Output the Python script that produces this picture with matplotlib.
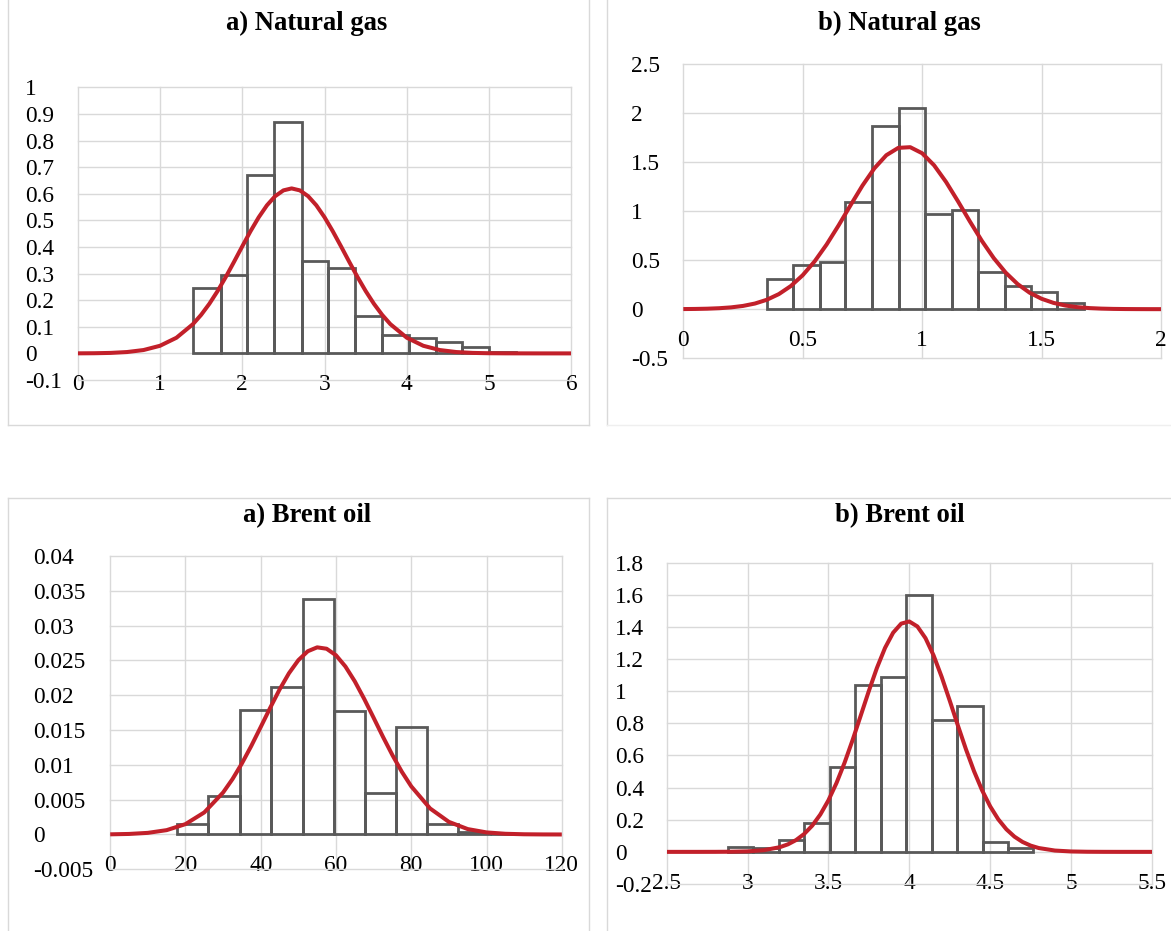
import numpy as np
import matplotlib
matplotlib.use("Agg")
import matplotlib.pyplot as plt
from matplotlib.lines import Line2D

plt.rcParams['font.family'] = ['Liberation Serif', 'DejaVu Serif']

# ---------------------------------------------------------------
#    DATA
# ---------------------------------------------------------------
# a) Natural gas - histogram
gas_a_edges = [1.405, 1.740, 2.056, 2.391, 2.730, 3.047, 3.372, 3.698, 4.023, 4.349, 4.674, 5.000, 5.326]
gas_a_dens = [0.244, 0.294, 0.670, 0.870, 0.347, 0.320, 0.140, 0.068, 0.056, 0.044, 0.023, 0.007]
# a) Natural gas - fitted curve
gas_a_cx = [0.0, 0.2, 0.4, 0.6, 0.8, 1.0, 1.2, 1.4, 1.5, 1.6, 1.7, 1.8, 1.9, 2.0, 2.1, 2.2, 2.3, 2.4, 2.5,
            2.6, 2.7, 2.8, 2.9, 3.0, 3.1, 3.2, 3.3, 3.4, 3.5, 3.6, 3.7, 3.8, 4.0, 4.2, 4.4, 4.6, 4.8,
            5.0, 5.2, 5.4, 5.6, 5.8, 6.0]
gas_a_cy = [0.0002, 0.0006, 0.0018, 0.0051, 0.0126, 0.0286, 0.0588, 0.1098, 0.1448, 0.1864, 0.2342,
            0.2873, 0.3441, 0.4023, 0.4590, 0.5115, 0.5565, 0.5909, 0.6126, 0.6200, 0.6126, 0.5909,
            0.5565, 0.5115, 0.4590, 0.4023, 0.3441, 0.2873, 0.2342, 0.1864, 0.1448, 0.1098, 0.0588,
            0.0286, 0.0126, 0.0051, 0.0018, 0.0006, 0.0002, 0.0001, 0.0, 0.0, 0.0]

# b) Natural gas
gas_b_edges = [0.349, 0.459, 0.572, 0.676, 0.792, 0.902, 1.012, 1.125, 1.235, 1.346, 1.456, 1.566, 1.676]
gas_b_dens = [0.312, 0.451, 0.478, 1.088, 1.864, 2.044, 0.966, 1.010, 0.383, 0.231, 0.173, 0.061]
gas_b_cx = [0.00, 0.05, 0.10, 0.15, 0.20, 0.25, 0.30, 0.35, 0.40, 0.45, 0.50, 0.55, 0.60, 0.65, 0.70,
            0.75, 0.80, 0.85, 0.90, 0.95, 1.00, 1.05, 1.10, 1.15, 1.20, 1.25, 1.30, 1.35, 1.40, 1.45,
            1.50, 1.55, 1.60, 1.65, 1.70, 1.75, 1.80, 1.85, 1.90, 1.95, 2.00]
gas_b_cy = [0.0011, 0.0023, 0.0048, 0.0096, 0.0182, 0.0330, 0.0574, 0.0959, 0.1533, 0.2350, 0.3457,
            0.4869, 0.6578, 0.8516, 1.0569, 1.2572, 1.4335, 1.5667, 1.6414, 1.6484, 1.5867, 1.4641,
            1.2949, 1.0979, 0.8922, 0.6950, 0.5189, 0.3713, 0.2547, 0.1675, 0.1057, 0.0639, 0.0369,
            0.0205, 0.0109, 0.0056, 0.0027, 0.0013, 0.0006, 0.0002, 0.0001]

# a) Brent oil
oil_a_edges = [17.7, 26.1, 34.5, 42.7, 51.1, 59.4, 67.6, 75.9, 84.2, 92.5, 100.8, 109.1, 117.4]
oil_a_dens = [0.00144, 0.00555, 0.0179, 0.02115, 0.0338, 0.0178, 0.00593, 0.0155, 0.00152,
              0.00035, 0.0001, 0.0001]
oil_a_cx = [0, 5, 10, 15, 20, 25, 30, 32.5, 35, 37.5, 40, 42.5, 45, 47.5, 50, 52.5, 55, 57.5, 60,
            62.5, 65, 67.5, 70, 72.5, 75, 77.5, 80, 85, 90, 95, 100, 105, 110, 115, 120]
oil_a_cy = [0.0000232, 0.0000779, 0.000233, 0.000624, 0.00149, 0.00317, 0.00603, 0.00796, 0.01021,
            0.01273, 0.01544, 0.01818, 0.02082, 0.02316, 0.02504, 0.02632, 0.02688, 0.02668, 0.02574,
            0.02413, 0.02199, 0.01947, 0.01676, 0.01401, 0.01139, 0.00900, 0.00691, 0.00374, 0.00181,
            0.000777, 0.000299, 0.000102, 0.0000313, 0.0000086, 0.0000021]

# b) Brent oil
oil_b_edges = [2.880, 3.037, 3.194, 3.352, 3.509, 3.666, 3.824, 3.981, 4.138, 4.296, 4.453, 4.610, 4.767]
oil_b_dens = [0.028, 0.021, 0.074, 0.178, 0.527, 1.039, 1.091, 1.602, 0.822, 0.909, 0.062, 0.023]
oil_b_cx = [2.5, 2.6, 2.7, 2.8, 2.9, 3.0, 3.1, 3.2, 3.25, 3.3, 3.35, 3.4, 3.45, 3.5, 3.55, 3.6, 3.65,
            3.7, 3.75, 3.8, 3.85, 3.9, 3.95, 4.0, 4.05, 4.1, 4.15, 4.2, 4.25, 4.3, 4.35, 4.4, 4.45,
            4.5, 4.55, 4.6, 4.65, 4.7, 4.75, 4.8, 4.9, 5.0, 5.1, 5.2, 5.3, 5.4, 5.5]
oil_b_cy = [0.0, 0.00001, 0.00004, 0.0002, 0.0009, 0.0032, 0.0102, 0.0292, 0.0470, 0.0734, 0.1113,
            0.1633, 0.2325, 0.3206, 0.4285, 0.5552, 0.6973, 0.8489, 1.0016, 1.1454, 1.2697, 1.3642,
            1.4208, 1.4341, 1.4031, 1.3305, 1.2231, 1.0896, 0.9409, 0.7875, 0.6390, 0.5024, 0.3830,
            0.2830, 0.2026, 0.1406, 0.0946, 0.0617, 0.0390, 0.0239, 0.0082, 0.0025, 0.0007, 0.0002,
            0.00003, 0.0, 0.0]

titles = ["a) Natural gas", "b) Natural gas", "a) Brent oil", "b) Brent oil"]

gas_a_xt = [0, 1, 2, 3, 4, 5, 6]
gas_a_yt = [-0.1, 0, 0.1, 0.2, 0.3, 0.4, 0.5, 0.6, 0.7, 0.8, 0.9, 1]
gas_a_yl = ["-0.1", "0", "0.1", "0.2", "0.3", "0.4", "0.5", "0.6", "0.7", "0.8", "0.9", "1"]
gas_b_xt = [0, 0.5, 1, 1.5, 2]
gas_b_xl = ["0", "0.5", "1", "1.5", "2"]
gas_b_yt = [-0.5, 0, 0.5, 1, 1.5, 2, 2.5]
gas_b_yl = ["-0.5", "0", "0.5", "1", "1.5", "2", "2.5"]
oil_a_xt = [0, 20, 40, 60, 80, 100, 120]
oil_a_yt = [-0.005, 0, 0.005, 0.01, 0.015, 0.02, 0.025, 0.03, 0.035, 0.04]
oil_a_yl = ["-0.005", "0", "0.005", "0.01", "0.015", "0.02", "0.025", "0.03", "0.035", "0.04"]
oil_b_xt = [2.5, 3, 3.5, 4, 4.5, 5, 5.5]
oil_b_xl = ["2.5", "3", "3.5", "4", "4.5", "5", "5.5"]
oil_b_yt = [-0.2, 0, 0.2, 0.4, 0.6, 0.8, 1, 1.2, 1.4, 1.6, 1.8]
oil_b_yl = ["-0.2", "0", "0.2", "0.4", "0.6", "0.8", "1", "1.2", "1.4", "1.6", "1.8"]

W, H = 1171, 931
GRID = "#D9D9D9"
BARC = "#595959"
RED = "#C2202A"


def draw_panel(rect, edges, dens, cx, cy, xt, xl, yt, yl, ypad):
	# rect in pixels: left, top, right, bottom
	l, t, r, b = rect
	ax = fig.add_axes([l / W, 1 - b / H, (r - l) / W, (b - t) / H])
	ax.set_axisbelow(True)
	edges = np.array(edges)
	ax.bar(edges[:-1], dens, width=np.diff(edges), align="edge", fill=False,
	       edgecolor=BARC, linewidth=2.0, zorder=2)
	ax.plot(cx, cy, color=RED, linewidth=2.9, zorder=3, solid_capstyle="butt")
	ax.set_xlim(xt[0], xt[-1])
	ax.set_ylim(yt[0], yt[-1])
	ax.set_xticks(xt, xl)
	ax.set_yticks(yt, yl)
	for s in ax.spines.values():
		s.set_visible(False)
	# x labels hang below the zero line, like the Excel axis
	ax.spines["bottom"].set_position(("data", 0))
	ax.tick_params(axis="both", length=0, labelsize=16.8, labelcolor="black")
	ax.tick_params(axis="x", pad=15.0)
	ax.tick_params(axis="y", pad=ypad)
	plt.setp(ax.get_yticklabels(), ha="left")
	ax.grid(True, color=GRID, linewidth=1.0)
	for gl in ax.get_xgridlines() + ax.get_ygridlines():
		gl.set_clip_on(False)
	return ax


fig = plt.figure(figsize=(W / 100, H / 100), dpi=100)

draw_panel((77.7, 87.3, 571.4, 380.0), gas_a_edges, gas_a_dens, gas_a_cx, gas_a_cy,
           gas_a_xt, [str(v) for v in gas_a_xt], gas_a_yt, gas_a_yl, 37.8)
draw_panel((683.3, 63.5, 1161.0, 358.3), gas_b_edges, gas_b_dens, gas_b_cx, gas_b_cy,
           gas_b_xt, gas_b_xl, gas_b_yt, gas_b_yl, 37.6)
draw_panel((110.2, 556.0, 561.8, 869.3), oil_a_edges, oil_a_dens, oil_a_cx, oil_a_cy,
           oil_a_xt, [str(v) for v in oil_a_xt], oil_a_yt, oil_a_yl, 55.4)
draw_panel((666.6, 562.7, 1152.0, 884.0), oil_b_edges, oil_b_dens, oil_b_cx, oil_b_cy,
           oil_b_xt, oil_b_xl, oil_b_yt, oil_b_yl, 37.3)

# titles
title_pos = [(307, 30.5), (899.5, 30.5), (307.5, 522.5), (899.5, 522.5)]
for (tx, ty), ttl in zip(title_pos, titles):
	fig.text(tx / W, 1 - ty / H, ttl, ha="center", va="baseline", fontsize=19.2, fontweight="bold")

# chart borders
def fline(x0, y0, x1, y1, c=GRID):
	fig.add_artist(Line2D([x0 / W, x1 / W], [1 - y0 / H, 1 - y1 / H], color=c, linewidth=1.0))

fline(8.3, -5, 8.3, 425)
fline(8.3, 425, 589, 425)
fline(589, -5, 589, 425)
fline(606.5, -5, 606.5, 425)
fline(606.5, 425, 1180, 425, "#EFEFEF")
fline(8.3, 498.3, 589, 498.3)
fline(8.3, 498.3, 8.3, 940)
fline(589, 498.3, 589, 940)
fline(606.5, 498.3, 1180, 498.3)
fline(606.5, 498.3, 606.5, 940)

fig.savefig("out.png", dpi=100)
